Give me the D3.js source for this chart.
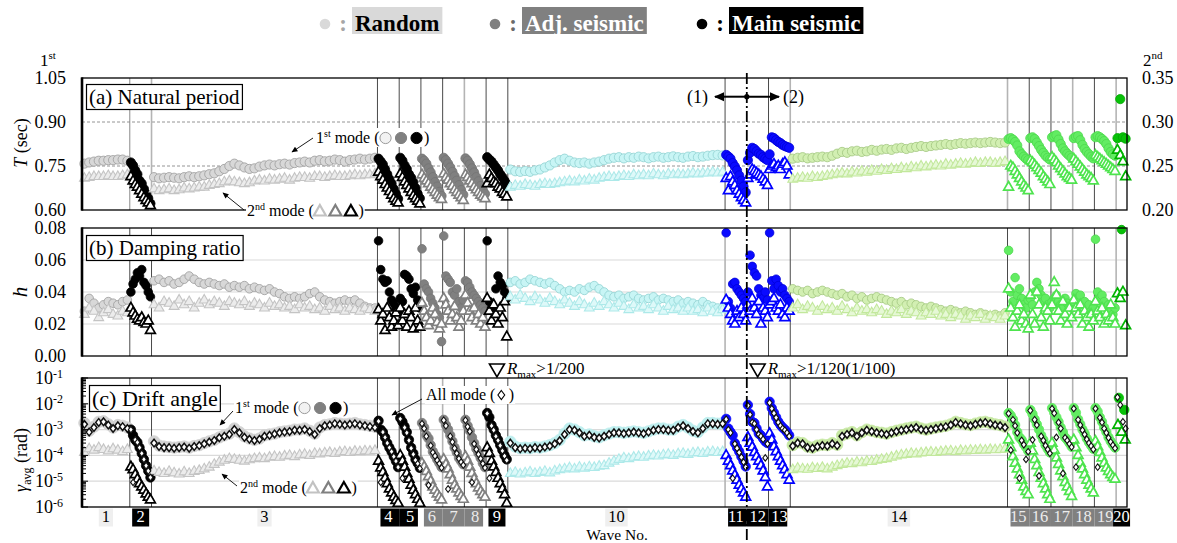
<!DOCTYPE html>
<html>
<head>
<meta charset="utf-8">
<script src="https://cdn.jsdelivr.net/npm/d3@7"></script>
<style>
  body { margin: 0; background: #fff; }
  svg { display: block; }
  text { font-family: "Liberation Serif", "Times New Roman", serif; }
</style>
</head>
<body>
<svg id="chart" width="1177" height="543"></svg>
<script>
// ---------- waves ----------
const waveNo   = [1,2,3,4,5,6,7,8,9,10,11,12,13,14,15,16,17,18,19,20];
const waveSpan = [22,10,104,10,10,10,10,10,10,100,10,10,10,100,10,10,10,10,10,5];
const waveGroup = ["gray","black","gray","black","black","mid","mid","mid","black","cyan",
                   "blue","blue","blue","lime","green","green","green","green","green","dgreen"];
const waveLabelTone = ["light","dark","light","dark","dark","mid","mid","mid","dark","light",
                       "dark","dark","dark","light","mid","mid","mid","mid","mid","dark"];
const legendLabels = ["Random", "Adj. seismic", "Main seismic"];

// ---------- tick labels ----------
const periodTicks  = [0.60, 0.75, 0.90, 1.05];
const period2Ticks = [0.20, 0.25, 0.30, 0.35];
const dampTicks    = [0.00, 0.02, 0.04, 0.06, 0.08];
const driftTicks   = [1e-6, 1e-5, 1e-4, 1e-3, 1e-2, 1e-1];

// ---------- (a) natural period, 1st mode [sec] ----------
const period1st = [
 [0.758,0.762,0.765,0.768,0.768,0.770,0.770,0.772,0.772,0.768],
 [0.762,0.752,0.735,0.722,0.700,0.690,0.672,0.655,0.640,0.622],
 [0.712,0.708,0.710,0.712,0.710,0.708,0.712,0.715,0.712,0.715,0.718,0.722,0.725,0.732,0.740,0.750,
  0.758,0.752,0.745,0.740,0.742,0.748,0.752,0.755,0.752,0.756,0.758,0.755,0.760,0.762,
  0.765,0.762,0.768,0.770,0.766,0.768,0.772,0.770,0.765,0.770,0.772,0.775,0.772,0.775,0.778],
 [0.775,0.765,0.755,0.738,0.722,0.705,0.690,0.672,0.655,0.638],
 [0.778,0.768,0.752,0.740,0.722,0.710,0.695,0.675,0.655,0.640],
 [0.775,0.768,0.758,0.742,0.728,0.712,0.695,0.680,0.662,0.648],
 [0.778,0.770,0.758,0.745,0.730,0.715,0.700,0.685,0.668,0.652],
 [0.776,0.768,0.756,0.742,0.728,0.712,0.698,0.682,0.668,0.655],
 [0.780,0.772,0.765,0.755,0.745,0.735,0.722,0.712,0.700,0.688],
 [0.738,0.732,0.730,0.733,0.730,0.735,0.738,0.745,0.752,0.762,0.770,0.775,
  0.768,0.762,0.760,0.762,0.758,0.762,0.765,0.770,0.775,0.778,0.780,
  0.776,0.780,0.778,0.782,0.780,0.776,0.780,0.782,0.778,0.780,0.783,0.780,0.778,0.782,0.784,0.780,0.782,
  0.785,0.787,0.788,0.786],
 [0.788,0.782,0.775,0.760,0.748,0.735,0.718,0.700,0.680,0.660],
 [0.770,0.795,0.812,0.808,0.800,0.792,0.788,0.780,0.775,0.770],
 [0.790,0.848,0.845,0.838,0.832,0.828,0.822,0.818,0.815,0.812],
 [0.775,0.778,0.780,0.776,0.778,0.780,0.782,0.780,0.785,0.792,0.798,0.795,0.800,0.802,0.798,0.800,
  0.805,0.802,0.806,0.808,0.805,0.810,0.812,0.808,0.812,0.815,0.818,0.815,0.818,
  0.820,0.822,0.825,0.822,0.825,0.828,0.826,0.828,0.830,0.828,0.830,0.832,0.830,0.828,0.830],
 [0.842,0.845,0.840,0.832,0.820,0.800,0.790,0.782,0.775,0.770],
 [0.845,0.848,0.842,0.830,0.818,0.805,0.795,0.785,0.778,0.772],
 [0.848,0.852,0.855,0.840,0.825,0.810,0.800,0.792,0.785,0.778],
 [0.845,0.850,0.852,0.838,0.822,0.808,0.798,0.790,0.782,0.776],
 [0.848,0.852,0.848,0.842,0.835,0.825,0.810,0.798,0.790,0.785],
 [0.845,0.978,0.848,0.843]
];

// ---------- (a) natural period, 2nd mode [sec] (right axis) ----------
const period2nd = [
 [0.236,0.237,0.238,0.238,0.238,0.239,0.238,0.238,0.239,0.240],
 [0.238,0.233,0.229,0.226,0.222,0.218,0.214,0.211,0.208,0.205],
 [0.224,0.222,0.223,0.224,0.222,0.223,0.225,0.224,0.225,0.226,0.226,0.228,0.229,0.230,0.232,0.233,
  0.232,0.231,0.230,0.231,0.233,0.234,0.233,0.235,0.234,0.235,0.236,0.234,0.236,0.237,
  0.237,0.236,0.238,0.238,0.237,0.238,0.239,0.238,0.238,0.239,0.240,0.239,0.240,0.240,0.241],
 [0.243,0.238,0.234,0.229,0.225,0.221,0.217,0.213,0.210,0.208],
 [0.241,0.237,0.232,0.228,0.224,0.220,0.216,0.213,0.210,0.207],
 [0.240,0.236,0.233,0.230,0.226,0.223,0.220,0.217,0.214,0.212],
 [0.241,0.237,0.234,0.230,0.227,0.223,0.220,0.217,0.214,0.211],
 [0.240,0.237,0.233,0.230,0.226,0.223,0.220,0.217,0.215,0.213],
 [0.230,0.240,0.236,0.232,0.230,0.226,0.224,0.220,0.218,0.215],
 [0.226,0.228,0.227,0.229,0.228,0.227,0.229,0.230,0.229,0.230,0.231,0.232,
  0.233,0.232,0.234,0.233,0.235,0.234,0.236,0.237,0.238,0.237,0.238,
  0.239,0.238,0.240,0.239,0.240,0.239,0.241,0.240,0.239,0.241,0.240,0.241,0.240,0.241,0.242,0.241,0.242,
  0.242,0.243,0.242,0.243],
 [0.236,0.222,0.238,0.232,0.228,0.222,0.218,0.214,0.211,0.208],
 [0.236,0.240,0.246,0.244,0.242,0.240,0.238,0.235,0.232,0.228],
 [0.246,0.250,0.252,0.248,0.250,0.246,0.252,0.254,0.250,0.240],
 [0.235,0.236,0.237,0.236,0.238,0.237,0.238,0.239,0.240,0.241,0.242,0.241,0.243,0.242,0.244,0.243,
  0.245,0.244,0.246,0.245,0.247,0.246,0.248,0.247,0.249,0.248,0.250,0.249,0.250,
  0.251,0.250,0.252,0.251,0.252,0.253,0.252,0.253,0.254,0.253,0.254,0.254,0.253,0.254,0.255],
 [0.226,0.250,0.248,0.244,0.240,0.236,0.232,0.228,0.225,0.222],
 [0.256,0.254,0.251,0.248,0.245,0.242,0.238,0.235,0.232,0.229],
 [0.260,0.257,0.254,0.250,0.247,0.244,0.241,0.238,0.236,0.234],
 [0.258,0.255,0.252,0.249,0.246,0.243,0.240,0.238,0.236,0.233],
 [0.262,0.260,0.258,0.256,0.254,0.252,0.250,0.248,0.246,0.244],
 [0.268,0.262,0.255,0.238]
];

// ---------- (b) damping ratio, 1st mode ----------
const damping1st = [
 [0.028,0.036,0.033,0.030,0.032,0.034,0.033,0.032,0.034,0.035],
 [0.040,0.045,0.048,0.052,0.050,0.054,0.046,0.044,0.040,0.037],
 [0.047,0.048,0.046,0.047,0.045,0.046,0.048,0.050,0.048,0.046,0.045,0.046,0.045,0.044,0.045,0.043,
  0.044,0.043,0.044,0.042,0.043,0.042,0.041,0.042,0.040,0.039,0.037,0.036,0.037,0.036,
  0.037,0.039,0.040,0.037,0.035,0.034,0.033,0.034,0.035,0.034,0.035,0.033,0.031,0.030,0.030],
 [0.072,0.054,0.048,0.046,0.047,0.040,0.035,0.033,0.030,0.028],
 [0.036,0.034,0.051,0.050,0.048,0.042,0.039,0.043,0.035,0.030],
 [0.067,0.045,0.042,0.040,0.036,0.033,0.030,0.026,0.024,0.009],
 [0.075,0.050,0.048,0.046,0.040,0.038,0.042,0.034,0.030,0.035],
 [0.047,0.046,0.043,0.040,0.038,0.036,0.034,0.032,0.030,0.028],
 [0.072,0.034,0.030,0.028,0.042,0.050,0.046,0.044,0.040,0.036],
 [0.046,0.047,0.045,0.046,0.048,0.047,0.046,0.045,0.046,0.044,0.042,0.040,0.041,0.040,0.042,0.041,0.043,
  0.044,0.042,0.040,0.038,0.037,0.038,0.036,0.037,0.038,
  0.036,0.035,0.036,0.037,0.035,0.036,0.035,0.034,0.035,0.033,
  0.034,0.033,0.032,0.034,0.032,0.031,0.030,0.030],
 [0.077,0.034,0.030,0.045,0.046,0.042,0.040,0.038,0.036,0.034],
 [0.040,0.063,0.056,0.052,0.050,0.042,0.038,0.036,0.040,0.035],
 [0.077,0.047,0.042,0.048,0.044,0.040,0.042,0.038,0.036,0.034],
 [0.042,0.041,0.040,0.041,0.039,0.040,0.041,0.040,0.039,0.038,0.039,0.037,0.038,0.036,0.037,0.035,
  0.036,0.037,0.036,0.035,0.034,0.033,0.034,0.032,0.033,0.032,
  0.031,0.030,0.031,0.030,0.029,0.028,0.029,0.028,0.027,0.028,
  0.027,0.026,0.027,0.026,0.025,0.026,0.025,0.027],
 [0.066,0.040,0.034,0.049,0.038,0.042,0.036,0.032,0.030,0.035],
 [0.036,0.032,0.040,0.046,0.042,0.038,0.034,0.036,0.032,0.030],
 [0.034,0.036,0.038,0.034,0.032,0.030,0.036,0.033,0.031,0.030],
 [0.034,0.039,0.036,0.038,0.032,0.034,0.030,0.032,0.028,0.030],
 [0.073,0.040,0.036,0.038,0.034,0.030,0.032,0.028,0.026,0.030],
 [0.079]
];

// ---------- (b) damping ratio, 2nd mode ----------
const damping2nd = [
 [0.026,0.030,0.028,0.024,0.027,0.029,0.026,0.025,0.028,0.027],
 [0.030,0.027,0.025,0.023,0.022,0.024,0.021,0.020,0.022,0.016],
 [0.032,0.030,0.034,0.033,0.031,0.035,0.032,0.034,0.030,0.033,0.035,0.032,0.034,0.033,0.031,0.034,
  0.033,0.032,0.034,0.031,0.033,0.032,0.030,0.033,0.031,0.032,0.030,0.031,0.029,0.032,
  0.030,0.031,0.029,0.030,0.028,0.031,0.029,0.030,0.028,0.030,0.029,0.028,0.030,0.029,0.028],
 [0.029,0.022,0.026,0.016,0.030,0.024,0.018,0.022,0.027,0.019],
 [0.030,0.022,0.026,0.018,0.028,0.024,0.017,0.030,0.022,0.018],
 [0.033,0.028,0.024,0.019,0.022,0.030,0.026,0.021,0.017,0.020],
 [0.036,0.032,0.028,0.022,0.026,0.031,0.024,0.018,0.022,0.028],
 [0.038,0.033,0.028,0.024,0.030,0.022,0.026,0.020,0.024,0.018],
 [0.036,0.028,0.022,0.032,0.026,0.020,0.030,0.024,0.034,0.012],
 [0.037,0.035,0.038,0.036,0.034,0.037,0.035,0.033,0.036,0.034,0.032,0.035,0.033,0.031,0.034,0.032,0.030,
  0.033,0.031,0.034,0.032,0.030,0.033,0.031,0.029,0.032,
  0.030,0.031,0.029,0.032,0.030,0.028,0.031,0.029,0.030,0.028,
  0.030,0.028,0.029,0.027,0.030,0.028,0.027,0.029],
 [0.035,0.030,0.026,0.022,0.020,0.028,0.024,0.030,0.026,0.022],
 [0.032,0.028,0.036,0.030,0.026,0.034,0.020,0.030,0.028,0.024],
 [0.032,0.034,0.036,0.030,0.028,0.032,0.026,0.024,0.030,0.028],
 [0.030,0.032,0.029,0.031,0.030,0.028,0.031,0.029,0.030,0.028,0.031,0.029,0.027,0.030,0.028,0.029,
  0.027,0.029,0.028,0.026,0.028,0.027,0.029,0.026,0.028,0.027,
  0.025,0.027,0.026,0.028,0.025,0.026,0.024,0.026,0.025,0.023,
  0.025,0.024,0.026,0.023,0.025,0.024,0.023,0.025],
 [0.042,0.030,0.024,0.018,0.028,0.032,0.022,0.026,0.020,0.017],
 [0.038,0.026,0.020,0.040,0.032,0.024,0.018,0.030,0.028,0.022],
 [0.032,0.046,0.038,0.028,0.022,0.034,0.026,0.020,0.030,0.024],
 [0.035,0.030,0.026,0.032,0.020,0.028,0.024,0.018,0.026,0.022],
 [0.034,0.028,0.024,0.030,0.020,0.026,0.022,0.032,0.024,0.020],
 [0.039,0.036,0.040,0.019]
];

// ---------- (c) average drift angle [rad], 1st mode ----------
const drift1st = [
 [1.8e-3,9e-4,1.3e-3,2.0e-3,2.1e-3,1.6e-3,1.2e-3,1.5e-3,1.4e-3,1.2e-3],
 [1.0e-3,6e-4,4e-4,3.2e-4,2.0e-4,1.2e-4,7e-5,4e-5,2.5e-5,1.4e-5],
 [3.5e-4,2.4e-4,2.2e-4,2.1e-4,2.0e-4,2.1e-4,2.2e-4,2.0e-4,2.3e-4,2.5e-4,3.0e-4,3.5e-4,4.0e-4,5.0e-4,6.0e-4,7.0e-4,
  1.1e-3,8.0e-4,5.5e-4,4.5e-4,4.0e-4,4.5e-4,6.0e-4,6.5e-4,7.0e-4,8.0e-4,8.5e-4,9.0e-4,1.0e-3,1.0e-3,
  1.1e-3,9.0e-4,7.0e-4,1.2e-3,1.5e-3,1.6e-3,1.8e-3,1.7e-3,1.6e-3,1.7e-3,1.8e-3,1.6e-3,1.5e-3,1.4e-3,1.3e-3],
 [2.2e-3,1.0e-3,8e-4,5e-4,3e-4,2.0e-4,1.4e-4,9e-5,6e-5,3.5e-5],
 [2.8e-3,2.0e-3,1.3e-3,8e-4,4e-4,2.0e-4,1.2e-4,7e-5,5e-5,3.3e-5],
 [1.8e-3,1.2e-3,6e-4,4.5e-4,2.5e-4,1.4e-4,1.0e-4,7e-5,5e-5,3.5e-5],
 [2.4e-3,1.5e-3,1.0e-3,6e-4,3.5e-4,2.0e-4,1.3e-4,8e-5,6e-5,4.5e-5],
 [2.4e-3,1.4e-3,9e-4,5e-4,3e-4,1.8e-4,1.2e-4,8e-5,5e-5,3.5e-5],
 [4.4e-3,3e-3,1.5e-3,1.0e-3,6e-4,4e-4,2.5e-4,1.6e-4,1.0e-4,7e-5],
 [3.4e-4,2.2e-4,1.9e-4,2.0e-4,1.9e-4,2.1e-4,2.0e-4,2.2e-4,2.5e-4,3.0e-4,
  4.0e-4,7e-4,1.1e-3,1.0e-3,8e-4,6e-4,6.5e-4,5.5e-4,5e-4,6e-4,
  7e-4,8e-4,8e-4,7.5e-4,8e-4,8.5e-4,8e-4,7.5e-4,8.5e-4,1.0e-3,
  1.1e-3,1.1e-3,1.0e-3,1.0e-3,1.3e-3,1.5e-3,1.2e-3,9e-4,8e-4,1.2e-3,
  1.8e-3,1.8e-3,1.7e-3,1.8e-3],
 [2.6e-3,1.1e-3,8e-4,6e-4,3e-4,2e-4,1.4e-4,9e-5,6e-5,3.7e-5],
 [9e-3,4e-3,2e-3,1.8e-3,1.1e-3,7e-4,6e-4,4.5e-4,3.5e-4,3e-4],
 [1.2e-2,6.8e-3,4.5e-3,3e-3,2e-3,1.5e-3,1.2e-3,1e-3,8e-4,6e-4],
 [2.5e-4,3.2e-4,3.0e-4,2.2e-4,2.0e-4,2.4e-4,2.6e-4,2.5e-4,3.0e-4,2.6e-4,
  6e-4,7e-4,8e-4,6e-4,8e-4,1.0e-3,9e-4,8e-4,7.5e-4,7e-4,
  8e-4,9e-4,1.0e-3,1.1e-3,1.2e-3,1.3e-3,1.1e-3,1.0e-3,1.1e-3,1.2e-3,
  1.3e-3,1.4e-3,1.6e-3,2.0e-3,1.8e-3,1.6e-3,1.5e-3,1.7e-3,1.9e-3,2.0e-3,
  1.8e-3,1.6e-3,1.5e-3,1.3e-3],
 [4.4e-3,3.5e-3,2.5e-3,1.5e-3,8e-4,5e-4,4e-4,2.8e-4,2.1e-4,1.5e-4],
 [5.8e-3,4e-3,2.5e-3,1.6e-3,1.0e-3,6e-4,4e-4,2.5e-4,1.8e-4,1.3e-4],
 [6.8e-3,4.5e-3,3e-3,2e-3,1.2e-3,8e-4,5e-4,4e-4,3e-4,2.2e-4],
 [6.8e-3,4.5e-3,2.5e-3,1.6e-3,1.0e-3,7e-4,4.5e-4,3.2e-4,2.4e-4,1.8e-4],
 [6.8e-3,5e-3,3e-3,2e-3,1.2e-3,8e-4,5e-4,3.5e-4,2.6e-4,2e-4],
 [1.7e-2,5.8e-3]
];

// ---------- (c) average drift angle [rad], 2nd mode ----------
const drift2nd = [
 [1.3e-4,1.8e-4,1.6e-4,2.0e-4,1.7e-4,1.5e-4,1.8e-4,1.6e-4,1.4e-4,1.7e-4],
 [3.6e-5,2.8e-5,1.8e-5,1.2e-5,8e-6,6e-6,4.5e-6,3.2e-6,2.4e-6,1.9e-6],
 [2.5e-5,2.2e-5,2.0e-5,2.4e-5,2.1e-5,1.9e-5,2.3e-5,2.0e-5,2.4e-5,2.6e-5,3.0e-5,3.5e-5,4.5e-5,5.5e-5,6.5e-5,7.5e-5,
  7.0e-5,6.5e-5,6.0e-5,6.8e-5,7.5e-5,8.0e-5,7.5e-5,8.5e-5,9.0e-5,8.5e-5,9.5e-5,1.0e-4,9.0e-5,1.05e-4,
  1.1e-4,1.0e-4,1.2e-4,1.15e-4,1.25e-4,1.3e-4,1.2e-4,1.35e-4,1.4e-4,1.3e-4,1.45e-4,1.4e-4,1.5e-4,1.45e-4,1.55e-4],
 [6e-5,3.3e-5,2.2e-5,1.3e-5,8e-6,5e-6,3.5e-6,2.4e-6,1.8e-6,1.4e-6],
 [1.0e-4,6e-5,3.5e-5,2.0e-5,1.2e-5,7e-6,4.5e-6,3e-6,2e-6,1.4e-6],
 [5e-5,3.6e-5,2.4e-5,1.5e-5,1.0e-5,6e-6,4.5e-6,3.2e-6,2.4e-6,1.9e-6],
 [7e-5,4.5e-5,3e-5,1.8e-5,1.1e-5,7e-6,5e-6,3.5e-6,2.6e-6,2.0e-6],
 [9e-5,6e-5,3.5e-5,2.0e-5,1.2e-5,8e-6,5.5e-6,4e-6,3e-6,2.4e-6],
 [2.0e-4,1.2e-4,6e-5,3.6e-5,2.2e-5,1.3e-5,8e-6,5e-6,3e-6,1.4e-6],
 [2.0e-5,2.2e-5,1.9e-5,2.1e-5,2.3e-5,2.0e-5,2.2e-5,2.4e-5,2.1e-5,2.5e-5,
  2.8e-5,3.0e-5,3.3e-5,3.0e-5,3.5e-5,3.2e-5,3.6e-5,3.4e-5,3.8e-5,4.0e-5,
  5.0e-5,6.0e-5,7.0e-5,8.0e-5,7.5e-5,8.5e-5,9.0e-5,8.5e-5,9.5e-5,1.0e-4,
  9.5e-5,1.05e-4,1.1e-4,1.0e-4,1.15e-4,1.2e-4,1.1e-4,1.25e-4,1.3e-4,1.2e-4,
  1.35e-4,1.4e-4,1.3e-4,1.4e-4],
 [1.0e-4,6e-5,4e-5,2.5e-5,1.7e-5,1.1e-5,7e-6,5e-6,3.5e-6,2.4e-6],
 [5e-4,3e-4,2.1e-4,1.3e-4,9e-5,6e-5,4e-5,2.5e-5,1.4e-5,6e-6],
 [7e-4,4e-4,2.2e-4,1.4e-4,9e-5,6e-5,4e-5,2.8e-5,1.8e-5,1.1e-5],
 [2.8e-5,3.2e-5,3.0e-5,2.9e-5,3.3e-5,3.1e-5,3.4e-5,3.0e-5,3.5e-5,4.0e-5,
  4.5e-5,5.0e-5,4.8e-5,5.5e-5,5.2e-5,6.0e-5,5.8e-5,6.5e-5,7.0e-5,7.5e-5,
  8.5e-5,9.5e-5,1.05e-4,1.1e-4,1.2e-4,1.15e-4,1.25e-4,1.3e-4,1.35e-4,1.3e-4,
  1.4e-4,1.45e-4,1.5e-4,1.4e-4,1.55e-4,1.5e-4,1.6e-4,1.55e-4,1.65e-4,1.6e-4,
  1.7e-4,1.65e-4,1.7e-4,1.75e-4],
 [4e-4,2e-4,9e-5,5e-5,3e-5,1.8e-5,1.1e-5,6e-6,4e-6,3e-6],
 [3e-4,1.5e-4,7e-5,4e-5,2.2e-5,1.3e-5,8e-6,5e-6,3e-6,2e-6],
 [3e-4,1.6e-4,8e-5,4.5e-5,2.5e-5,1.5e-5,9e-6,6e-6,4e-6,2.6e-6],
 [4e-4,2e-4,1e-4,5e-5,3e-5,1.8e-5,1.1e-5,7e-6,5e-6,3.5e-6],
 [3.5e-4,2.2e-4,1.3e-4,8e-5,5e-5,3.3e-5,2.4e-5,1.8e-5,1.4e-5,1.2e-5],
 [1.5e-3,8e-4,4e-4]
];

// ---------- (c) average drift angle [rad], all modes ----------
const driftAll = [
 [1.6e-3,8e-4,1.2e-3,1.9e-3,2.0e-3,1.5e-3,1.1e-3,1.4e-3,1.3e-3,1.1e-3],
 [1.0e-3,9e-6,4e-4,3.2e-4,2.0e-4,1.2e-4,7e-5,4e-5,2.5e-5,1.4e-5],
 [3.0e-4,2.2e-4,2.0e-4,2.0e-4,1.9e-4,2.0e-4,2.1e-4,1.9e-4,2.2e-4,2.4e-4,2.8e-4,3.3e-4,3.8e-4,4.8e-4,5.5e-4,6.5e-4,
  1.0e-3,7.5e-4,5.0e-4,4.2e-4,3.8e-4,4.2e-4,5.5e-4,6.0e-4,6.8e-4,7.5e-4,8.0e-4,8.5e-4,9.5e-4,9.5e-4,
  1.0e-3,8.5e-4,6.5e-4,1.1e-3,1.4e-3,1.5e-3,1.7e-3,1.6e-3,1.5e-3,1.6e-3,1.7e-3,1.5e-3,1.4e-3,1.3e-3,1.2e-3],
 [2.1e-3,9e-6,8e-4,5e-4,3e-4,2.0e-4,1.4e-4,9e-5,6e-5,3.5e-5],
 [2.6e-3,1.3e-5,1.2e-3,7.5e-4,3.8e-4,1.9e-4,1.1e-4,6.5e-5,4.8e-5,3.1e-5],
 [1.7e-3,1.1e-3,5.5e-4,7e-6,2.4e-4,1.3e-4,9.5e-5,6.5e-5,4.8e-5,3.3e-5],
 [2.3e-3,1.4e-3,5e-6,5.5e-4,3.3e-4,1.9e-4,1.2e-4,7.5e-5,5.5e-5,4.2e-5],
 [2.3e-3,1.3e-3,8.5e-4,9e-6,2.8e-4,1.7e-4,1.1e-4,7.5e-5,4.8e-5,3.3e-5],
 [4.2e-3,1.3e-5,1.4e-3,9.5e-4,5.5e-4,3.8e-4,2.4e-4,1.5e-4,9.5e-5,6.5e-5],
 [3.0e-4,2.0e-4,1.8e-4,1.9e-4,1.8e-4,2.0e-4,1.9e-4,2.1e-4,2.3e-4,2.8e-4,
  3.7e-4,6.5e-4,1.0e-3,9.5e-4,7.5e-4,5.5e-4,6e-4,5e-4,4.7e-4,5.5e-4,
  6.5e-4,7.5e-4,7.5e-4,7e-4,7.5e-4,8e-4,7.5e-4,7e-4,8e-4,9.5e-4,
  1.0e-3,1.0e-3,9.5e-4,9.5e-4,1.2e-3,1.4e-3,1.1e-3,8.5e-4,7.5e-4,1.1e-3,
  1.7e-3,1.7e-3,1.6e-3,1.7e-3],
 [2.5e-3,1.0e-3,7.5e-4,1.3e-5,2.8e-4,1.9e-4,1.3e-4,8.5e-5,5.5e-5,3.5e-5],
 [8.5e-3,3.8e-3,1.9e-3,1.7e-3,1.0e-3,6.5e-4,5.5e-4,4.2e-4,8e-5,2.8e-4],
 [1.1e-2,6.5e-3,4.3e-3,2.9e-3,1.9e-3,1.4e-3,1.1e-3,9.5e-4,7.5e-4,5.5e-4],
 [2.3e-4,3.0e-4,2.8e-4,2.0e-4,1.9e-4,2.2e-4,2.4e-4,2.3e-4,2.8e-4,2.4e-4,
  5.5e-4,6.5e-4,7.5e-4,5.5e-4,7.5e-4,9.5e-4,8.5e-4,7.5e-4,7e-4,6.5e-4,
  7.5e-4,8.5e-4,9.5e-4,1.0e-3,1.1e-3,1.2e-3,1.0e-3,9.5e-4,1.0e-3,1.1e-3,
  1.2e-3,1.3e-3,1.5e-3,1.9e-3,1.7e-3,1.5e-3,1.4e-3,1.6e-3,1.8e-3,1.9e-3,
  1.7e-3,1.5e-3,1.4e-3,1.2e-3],
 [4.2e-3,1.6e-4,2.4e-3,1.4e-3,7.5e-4,1.3e-5,3.8e-4,2.6e-4,7e-5,1.4e-4],
 [5.5e-3,4e-4,2.4e-3,1.5e-3,1.6e-5,5.5e-4,3.8e-4,2.4e-4,1.7e-4,1.2e-4],
 [6.5e-3,4.3e-3,5e-4,1.9e-3,1.1e-3,2e-5,4.8e-4,3.8e-4,2.8e-4,2.1e-4],
 [6.5e-3,3.5e-5,2.4e-3,1.5e-3,9.5e-4,6.5e-4,4.2e-4,3e-4,2.3e-4,1.7e-4],
 [6.5e-3,3.5e-5,2.9e-3,1.9e-3,1.1e-3,7.5e-4,4.8e-4,3.3e-4,2.5e-4,1.9e-4],
 [1.8e-2,9e-3,2e-3,1.1e-3]
];

// ---------- look ----------
const palette = {
  gray:   {fill:"#d8d8d8", stroke:"#9c9c9c", halo:"#d2d2d2", tri:"#c4c4c4", triFill:"#ececec"},
  black:  {fill:"#000000", stroke:"#000000", halo:"#000000", tri:"#000000", triFill:"#ffffff"},
  mid:    {fill:"#808080", stroke:"#747474", halo:"#808080", tri:"#808080", triFill:"#ffffff"},
  cyan:   {fill:"#c8f5f5", stroke:"#90d2d2", halo:"#bdeeee", tri:"#ade9e9", triFill:"#def9f9"},
  blue:   {fill:"#0a0aff", stroke:"#0000d8", halo:"#0a0aff", tri:"#0000ff", triFill:"#ffffff"},
  lime:   {fill:"#d2efb2", stroke:"#a2c680", halo:"#c6e8a2", tri:"#c2e89c", triFill:"#e6f8d6"},
  green:  {fill:"#62ec62", stroke:"#4cd84c", halo:"#62ec62", tri:"#4ee44e", triFill:"#ffffff"},
  dgreen: {fill:"#08c008", stroke:"#00a800", halo:"#08c008", tri:"#00b400", triFill:"#ffffff"}
};
const soft = g => g === "gray" || g === "cyan" || g === "lime";
// boundary line shades per panel (d = dark, l = light, m = medium, x = dash-dot divider)
const boundaryShade = {
  a: "mlddddldddxdllddldl",
  b: "dddddddddlxdddddldl",
  c: "dddddldddlxdddddldl"
};
const shadeColor = {d:"#4a4a4a", l:"#b4b4b4", m:"#8a8a8a"};

// ---------- scales ----------
const svg = d3.select("#chart");
const starts = [0];
waveSpan.forEach(s => starts.push(starts[starts.length - 1] + s));
const x = d3.scaleLinear().domain([0, d3.sum(waveSpan)]).range([82, 1127]);
const posX = (w, i, n) => x(starts[w] + (i + 0.5) * waveSpan[w] / n);
const flat = arr => arr.flatMap((vals, w) => vals.map((v, i) => ({w, i, n: vals.length, v})));

const panels = {
  a: {top: 78, bottom: 210},
  b: {top: 228, bottom: 356},
  c: {top: 378, bottom: 507}
};
const yT  = d3.scaleLinear().domain([0.60, 1.05]).range([panels.a.bottom, panels.a.top]);
const yT2 = d3.scaleLinear().domain([0.20, 0.35]).range([panels.a.bottom, panels.a.top]);
const yH  = d3.scaleLinear().domain([0, 0.08]).range([panels.b.bottom, panels.b.top]);
const yG  = d3.scaleLog().domain([1e-6, 1e-1]).range([panels.c.bottom, panels.c.top]);

const triPath = "M0,-5.6L4.9,3L-4.9,3Z";
const diaPath = "M0,-3.3L2.5,0L0,3.3L-2.5,0Z";
const diaPathSoft = "M0,-3.8L3,0L0,3.8L-3,0Z";

// ---------- defs ----------
const defs = svg.append("defs");
defs.append("marker").attr("id", "headThin").attr("viewBox", "0 0 10 10")
  .attr("refX", 9).attr("refY", 5).attr("markerUnits", "userSpaceOnUse")
  .attr("markerWidth", 7).attr("markerHeight", 6).attr("orient", "auto")
  .append("path").attr("d", "M0,0.5L10,5L0,9.5Z").attr("fill", "#000");
defs.append("marker").attr("id", "headBold").attr("viewBox", "0 0 10 10")
  .attr("refX", 9).attr("refY", 5).attr("markerUnits", "userSpaceOnUse")
  .attr("markerWidth", 11).attr("markerHeight", 10).attr("orient", "auto")
  .append("path").attr("d", "M0,0.5L10,5L0,9.5Z").attr("fill", "#000");

// ---------- panel frames ----------
function frameBack(key) {
  const p = panels[key];
  const g = svg.append("g");
  const shades = boundaryShade[key];
  starts.slice(1, -1).forEach((u, k) => {
    const s = shades[k];
    if (s === "x") return;
    g.append("line").attr("x1", x(u)).attr("x2", x(u)).attr("y1", p.top).attr("y2", p.bottom)
      .attr("stroke", shadeColor[s]).attr("stroke-width", s === "l" ? 1.6 : 1);
  });
}
function frameFront(key) {
  const p = panels[key];
  const g = svg.append("g");
  g.append("rect").attr("x", 82).attr("y", p.top).attr("width", 1127 - 82).attr("height", p.bottom - p.top)
    .attr("fill", "none").attr("stroke", "#000").attr("stroke-width", 1.3);
  g.append("line").attr("x1", 82).attr("x2", 82).attr("y1", p.top - 0.6).attr("y2", p.bottom + 0.6)
    .attr("stroke", "#000").attr("stroke-width", 2.6);
}
function styleAxis(g, size) {
  g.select(".domain").remove();
  g.selectAll(".tick line").remove();
  g.selectAll("text").attr("font-family", '"Liberation Serif", serif').attr("font-size", size).attr("fill", "#000");
}

// gridlines
svg.append("g").selectAll("line").data([0.75, 0.90]).join("line")
  .attr("x1", 82).attr("x2", 1127).attr("y1", d => yT(d)).attr("y2", d => yT(d))
  .attr("stroke", "#7a7a7a").attr("stroke-width", 0.8).attr("stroke-dasharray", "3,2");
svg.append("g").selectAll("line").data([0.02, 0.04, 0.06]).join("line")
  .attr("x1", 82).attr("x2", 1127).attr("y1", d => yH(d)).attr("y2", d => yH(d))
  .attr("stroke", "#dadada").attr("stroke-width", 1.2);
svg.append("g").selectAll("line").data([1e-5, 1e-4, 1e-3, 1e-2]).join("line")
  .attr("x1", 82).attr("x2", 1127).attr("y1", d => yG(d)).attr("y2", d => yG(d))
  .attr("stroke", "#dadada").attr("stroke-width", 1.2);

frameBack("a"); frameBack("b"); frameBack("c");

// ---------- marks ----------
function circles(data, y, r, halo) {
  svg.append("g").selectAll("circle").data(flat(data)).join("circle")
    .attr("cx", d => posX(d.w, d.i, d.n)).attr("cy", d => y(d.v))
    .attr("r", d => (halo && soft(waveGroup[d.w])) ? r + 1 : r)
    .attr("fill", d => halo ? palette[waveGroup[d.w]].halo : palette[waveGroup[d.w]].fill)
    .attr("stroke", d => halo ? palette[waveGroup[d.w]].halo : palette[waveGroup[d.w]].stroke)
    .attr("stroke-width", 0.8);
}
function triangles(data, y) {
  svg.append("g").selectAll("path").data(flat(data)).join("path")
    .attr("d", triPath)
    .attr("transform", d => `translate(${posX(d.w, d.i, d.n)},${y(d.v)})`)
    .attr("fill", d => palette[waveGroup[d.w]].triFill)
    .attr("stroke", d => palette[waveGroup[d.w]].tri)
    .attr("stroke-width", d => soft(waveGroup[d.w]) ? 1.1 : 1.7);
}
function diamonds(data, y) {
  svg.append("g").selectAll("path").data(flat(data)).join("path")
    .attr("d", d => soft(waveGroup[d.w]) ? diaPathSoft : diaPath)
    .attr("transform", d => `translate(${posX(d.w, d.i, d.n)},${y(d.v)})`)
    .attr("fill", "#fff").attr("stroke", "#111")
    .attr("stroke-width", d => soft(waveGroup[d.w]) ? 1.5 : 1.1);
}

circles(period1st, yT, 4.6, false);
triangles(period2nd, yT2);
circles(damping1st, yH, 4.3, false);
triangles(damping2nd, yH);
circles(drift1st, yG, 4.7, true);
triangles(drift2nd, yG);
diamonds(driftAll, yG);

frameFront("a"); frameFront("b"); frameFront("c");

// ---------- axes ----------
const axA = svg.append("g").attr("transform", "translate(82,0)")
  .call(d3.axisLeft(yT).tickValues(periodTicks).tickFormat(d3.format(".2f")).tickSize(0).tickPadding(16));
styleAxis(axA, 18);
const axA2 = svg.append("g").attr("transform", "translate(1127,0)")
  .call(d3.axisRight(yT2).tickValues(period2Ticks).tickFormat(d3.format(".2f")).tickSize(0).tickPadding(15));
styleAxis(axA2, 18);
const axB = svg.append("g").attr("transform", "translate(82,0)")
  .call(d3.axisLeft(yH).tickValues(dampTicks).tickFormat(d3.format(".2f")).tickSize(0).tickPadding(16));
styleAxis(axB, 18);
const axC = svg.append("g").attr("transform", "translate(82,0)")
  .call(d3.axisLeft(yG).tickValues(driftTicks).tickSize(0).tickPadding(19));
styleAxis(axC, 18);
axC.selectAll(".tick text").each(function(d) {
  const t = d3.select(this).text(null);
  t.append("tspan").text("10");
  t.append("tspan").attr("font-size", 12).attr("dy", "-0.55em").text(Math.round(Math.log10(d)));
});
// log minor ticks on the left edge
const minor = [];
for (let e = -6; e < -1; e++) for (let m = 1; m <= 9; m++) minor.push({v: m * Math.pow(10, e), major: m === 1});
minor.push({v: 1e-1, major: true});
svg.append("g").selectAll("line").data(minor).join("line")
  .attr("x1", 82).attr("x2", d => d.major ? 88 : 86)
  .attr("y1", d => yG(d.v)).attr("y2", d => yG(d.v))
  .attr("stroke", "#000").attr("stroke-width", 1);

// axis titles
const tA = svg.append("text").attr("transform", "translate(27,143) rotate(-90)")
  .attr("text-anchor", "middle").attr("font-size", 18);
tA.append("tspan").attr("font-style", "italic").text("T");
tA.append("tspan").text(" (sec)");
svg.append("text").attr("transform", "translate(27,292) rotate(-90)")
  .attr("text-anchor", "middle").attr("font-size", 21).attr("font-style", "italic").text("h");
const tC = svg.append("text").attr("transform", "translate(27,460) rotate(-90)")
  .attr("text-anchor", "middle").attr("font-size", 18);
tC.append("tspan").attr("font-style", "italic").text("γ");
tC.append("tspan").attr("font-size", 12).attr("dy", 4).text("avg");
tC.append("tspan").attr("dy", -4).text(" (rad)");

// mode ordinals above the period axes
const o1 = svg.append("text").attr("x", 40).attr("y", 66).attr("font-size", 17);
o1.append("tspan").text("1");
o1.append("tspan").attr("font-size", 11).attr("dy", -7).text("st");
const o2 = svg.append("text").attr("x", 1143).attr("y", 66).attr("font-size", 17);
o2.append("tspan").text("2");
o2.append("tspan").attr("font-size", 11).attr("dy", -7).text("nd");

// panel titles
function panelTitle(label, x0, base, size) {
  const g = svg.append("g");
  const t = g.append("text").attr("x", x0).attr("y", base).attr("font-size", size).text(label);
  const b = t.node().getBBox();
  g.insert("rect", "text").attr("x", b.x - 2.5).attr("y", b.y - 0.5).attr("width", b.width + 5).attr("height", b.height + 1)
    .attr("fill", "#fff").attr("stroke", "#000").attr("stroke-width", 1.2);
}
panelTitle("(a) Natural period", 89, 104, 21);
panelTitle("(b) Damping ratio", 89, 255, 21);
panelTitle("(c) Drift angle", 92, 406, 22);

// ---------- symbols used in the notes ----------
function symbol(g, kind, cx, cy) {
  const st = {
    c0: ["circle", "#f2f2f2", "#9a9a9a"], c1: ["circle", "#808080", "#808080"], c2: ["circle", "#000", "#000"],
    t0: ["tri", "#fff", "#c2c2c2"], t1: ["tri", "#fff", "#808080"], t2: ["tri", "#fff", "#000"],
    d: ["dia", "#fff", "#000"]
  }[kind];
  if (st[0] === "circle") {
    g.append("circle").attr("cx", cx).attr("cy", cy).attr("r", 5.6).attr("fill", st[1]).attr("stroke", st[2]).attr("stroke-width", 1);
  } else if (st[0] === "tri") {
    g.append("path").attr("d", "M0,-6L6,4.5L-6,4.5Z").attr("transform", `translate(${cx},${cy})`)
      .attr("fill", st[1]).attr("stroke", st[2]).attr("stroke-width", 2.2);
  } else {
    g.append("path").attr("d", "M0,-4.5L3.4,0L0,4.5L-3.4,0Z").attr("transform", `translate(${cx},${cy})`)
      .attr("fill", st[1]).attr("stroke", st[2]).attr("stroke-width", 1.1);
  }
}
function note(x0, base, head, sup, kinds, from, to) {
  const g = svg.append("g");
  const t = g.append("text").attr("x", x0).attr("y", base).attr("font-size", 16);
  t.append("tspan").text(head);
  if (sup) {
    t.append("tspan").attr("font-size", 10).attr("dy", -6).text(sup);
    t.append("tspan").attr("dy", 6).text(" mode (");
  } else {
    t.append("tspan").text(" mode (");
  }
  let cx = x0 + t.node().getComputedTextLength() + 6;
  kinds.forEach(k => { symbol(g, k, cx, base - 5); cx += 15.5; });
  g.append("text").attr("x", cx - 8).attr("y", base).attr("font-size", 16).text(")");
  const b = g.node().getBBox();
  g.insert("rect", ":first-child").attr("x", b.x - 1).attr("y", b.y).attr("width", b.width + 2).attr("height", b.height)
    .attr("fill", "#fff");
  svg.append("line").attr("x1", from[0]).attr("y1", from[1]).attr("x2", to[0]).attr("y2", to[1])
    .attr("stroke", "#000").attr("stroke-width", 0.9).attr("marker-end", "url(#headThin)");
}
note(316, 143, "1", "st", ["c0", "c1", "c2"], [313, 138], [292, 152]);
note(247, 216, "2", "nd", ["t0", "t1", "t2"], [244, 210], [223, 193]);
note(235, 413, "1", "st", ["c0", "c1", "c2"], [233, 411], [220, 425]);
note(240, 493, "2", "nd", ["t0", "t1", "t2"], [237, 486], [222, 474]);
note(426, 400, "All", null, ["d"], [422, 399], [392, 415]);

// ---------- divider (1) | (2) ----------
const xDiv = x(starts[11]);
svg.append("line").attr("x1", xDiv).attr("x2", xDiv).attr("y1", 73).attr("y2", 543)
  .attr("stroke", "#000").attr("stroke-width", 1.8).attr("stroke-dasharray", "11,3,2,3");
svg.append("line").attr("x1", xDiv).attr("x2", 715).attr("y1", 96.7).attr("y2", 96.7)
  .attr("stroke", "#000").attr("stroke-width", 2).attr("marker-end", "url(#headBold)");
svg.append("line").attr("x1", xDiv).attr("x2", 779).attr("y1", 96.7).attr("y2", 96.7)
  .attr("stroke", "#000").attr("stroke-width", 2).attr("marker-end", "url(#headBold)");
svg.append("circle").attr("cx", xDiv).attr("cy", 96.7).attr("r", 2.6).attr("fill", "#000");
svg.append("text").attr("x", 708).attr("y", 103).attr("text-anchor", "end").attr("font-size", 18).text("(1)");
svg.append("text").attr("x", 783).attr("y", 103).attr("font-size", 18).text("(2)");

// ---------- R_max markers ----------
function rmax(w, tail) {
  const cx = x(starts[w] + waveSpan[w] / 2);
  svg.append("path").attr("d", "M-7.5,-6.5L7.5,-6.5L0,6.5Z").attr("transform", `translate(${cx},370.5)`)
    .attr("fill", "#fff").attr("stroke", "#000").attr("stroke-width", 1.6);
  const t = svg.append("text").attr("x", cx + 10).attr("y", 374).attr("font-size", 17);
  t.append("tspan").attr("font-style", "italic").text("R");
  t.append("tspan").attr("font-size", 11).attr("dy", 4).text("max");
  t.append("tspan").attr("dy", -4).text(tail);
}
rmax(8, ">1/200");
rmax(11, ">1/120(1/100)");

// ---------- wave number labels ----------
const tone = {light: ["#efefef", "#000"], dark: ["#000", "#fff"], mid: ["#808080", "#ececec"]};
const lab = svg.append("g");
waveNo.forEach((n, w) => {
  const cx = x(starts[w] + waveSpan[w] / 2);
  const [bg, fg] = tone[waveLabelTone[w]];
  const t = lab.append("text").attr("x", cx).attr("y", 522).attr("text-anchor", "middle")
    .attr("font-size", 16.5).attr("fill", fg).text(n);
  let x0, x1;
  if (waveLabelTone[w] === "light") {
    const tw = t.node().getComputedTextLength();
    x0 = cx - tw / 2 - 3; x1 = cx + tw / 2 + 3;
  } else {
    const sameL = w > 0 && waveLabelTone[w - 1] === waveLabelTone[w];
    const sameR = w < waveNo.length - 1 && waveLabelTone[w + 1] === waveLabelTone[w];
    x0 = x(starts[w]) + (sameL ? 0 : 3);
    x1 = x(starts[w + 1]) - (sameR ? 0 : 3);
    if (x1 - x0 < 17) { x0 = cx - 8.5; x1 = cx + 8.5; }
  }
  lab.insert("rect", "text").attr("x", x0).attr("y", 508.5).attr("width", x1 - x0).attr("height", 18).attr("fill", bg);
});
svg.append("text").attr("x", 617).attr("y", 539.5).attr("text-anchor", "middle").attr("font-size", 15.5).text("Wave No.");

// ---------- top legend ----------
const legendLook = [
  {x: 352, dot: "#d9d9d9", colon: "#a6a6a6", box: "#d9d9d9", ink: "#000"},
  {x: 522, dot: "#808080", colon: "#6a6a6a", box: "#808080", ink: "#fff"},
  {x: 729, dot: "#000000", colon: "#000000", box: "#000000", ink: "#fff"}
];
legendLabels.forEach((label, k) => {
  const L = legendLook[k];
  const g = svg.append("g");
  g.append("circle").attr("cx", L.x - 27).attr("cy", 24).attr("r", 5.3).attr("fill", L.dot);
  g.append("text").attr("x", L.x - 9).attr("y", 31).attr("text-anchor", "middle")
    .attr("font-size", 23).attr("font-weight", "bold").attr("fill", L.colon).text(":");
  const t = g.append("text").attr("x", L.x + 3).attr("y", 31).attr("font-size", 23)
    .attr("font-weight", "bold").attr("fill", L.ink).text(label);
  const tw = t.node().getComputedTextLength();
  g.insert("rect", "text:last-child").attr("x", L.x).attr("y", 7).attr("width", tw + 6).attr("height", 27).attr("fill", L.box);
});
</script>
</body>
</html>
